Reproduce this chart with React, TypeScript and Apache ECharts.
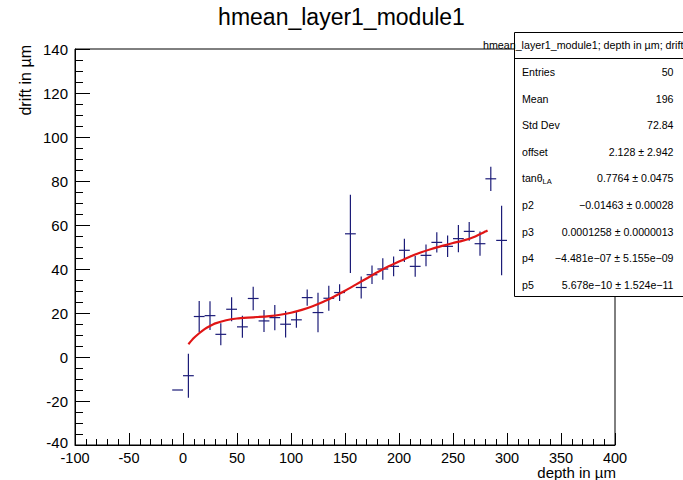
import React, { useEffect, useRef } from "react";
import * as echarts from "echarts";

// Histogram bins (centre, mean drift, error)
const binCenters = [-5, 5, 15, 25, 35, 45, 55, 65, 75, 85, 95, 105, 115, 125, 135, 145, 155, 165, 175, 185, 195, 205, 215, 225, 235, 245, 255, 265, 275, 285, 295];
const binValues = [-15, -8.5, 18.4, 18.8, 10.3, 21.7, 13.7, 26.6, 16.4, 17.9, 14.9, 16.9, 27, 20.2, 26.7, 29.3, 56, 31.6, 37.4, 40, 41.2, 48.5, 41.2, 46.2, 52.1, 50.3, 53.8, 57.1, 51.5, 81, 53];
const binErrors = [0, 10, 7, 6.5, 5, 5.5, 5, 5.3, 5, 5.7, 6, 3.6, 3.7, 9, 5.7, 3.8, 17.8, 5, 4.2, 4.9, 4.5, 5.3, 4.7, 4.9, 4.6, 4.9, 6.2, 4.3, 5.5, 5.5, 15.8];
const binHalfWidth = 5;

// Fit curve
const fitX = [5, 10, 15, 20, 25, 30, 40, 50, 60, 70, 80, 90, 100, 110, 120, 130, 140, 150, 160, 170, 180, 190, 200, 210, 220, 230, 240, 250, 260, 270, 280, 282];
const fitY = [5.8, 8.6, 10.8, 12.7, 14.1, 15.3, 16.7, 17.5, 17.9, 18.2, 18.6, 19.2, 20.1, 21.4, 23.1, 25.1, 27.5, 30.1, 32.9, 35.7, 38.5, 41.1, 43.4, 45.6, 47.5, 49.1, 50.5, 51.8, 53.0, 54.7, 57.0, 57.5];

const chartTitle = "hmean_layer1_module1";
const xTitle = "depth in µm";
const yTitle = "drift in µm";
const statsHeader = "hmean_layer1_module1; depth in µm; drift";
const statsLabels = ["Entries", "Mean", "Std Dev", "offset", "tanθ{sub|LA}", "p2", "p3", "p4", "p5"];
const statsValues = ["50", "196", "72.84", "2.128 ± 2.942", "0.7764 ± 0.0475", "−0.01463 ± 0.00028", "0.0001258 ± 0.0000013", "−4.481e−07 ± 5.155e−09", "5.678e−10 ± 1.524e−11"];

const FONT = "'Liberation Sans', Arial, Helvetica, sans-serif";
const MARK = "#1c1c78";

export default function App() {
  const ref = useRef<HTMLDivElement>(null);
  useEffect(() => {
    if (!ref.current) return;
    const chart = echarts.init(ref.current, undefined, { renderer: "svg" });
    const barData = binCenters.map((c, i) => [c, binValues[i], binErrors[i]]);
    const fitData = fitX.map((x, i) => [x, fitY[i]]);

    const rowTop = 58;
    const rowH = 26.6;
    const statsEls: any[] = [];
    statsLabels.forEach((lab, i) => {
      const cy = rowTop + rowH * i + 14;
      statsEls.push({
        type: "text",
        z: 101,
        style: {
          x: 522,
          y: cy,
          text: lab,
          fontFamily: FONT,
          fontSize: 10.6,
          fill: "#000",
          verticalAlign: "middle",
          align: "left",
          rich: {
            sub: { fontSize: 7.5, fontFamily: FONT, fill: "#000", padding: [6, 0, 0, 0] },
          },
        },
      });
      statsEls.push({
        type: "text",
        z: 101,
        style: {
          x: 673.5,
          y: cy,
          text: statsValues[i],
          fontFamily: FONT,
          fontSize: 10.6,
          fill: "#000",
          verticalAlign: "middle",
          align: "right",
        },
      });
    });

    chart.setOption({
      animation: false,
      backgroundColor: "#fff",
      grid: {
        left: 75,
        right: 68,
        top: 49,
        bottom: 35,
        show: true,
        borderColor: "#000",
        borderWidth: 1,
        backgroundColor: "transparent",
      },
      xAxis: {
        type: "value",
        min: -100,
        max: 400,
        interval: 50,
        axisLine: { show: true, onZero: false, lineStyle: { color: "#000", width: 1 } },
        axisTick: { show: true, inside: true, length: 12, lineStyle: { color: "#000" } },
        minorTick: { show: true, splitNumber: 5, length: 6, lineStyle: { color: "#000" } },
        splitLine: { show: false },
        axisLabel: { color: "#000", fontFamily: FONT, fontSize: 14.5, margin: 5 },
      },
      yAxis: {
        type: "value",
        min: -40,
        max: 140,
        interval: 20,
        axisLine: { show: true, onZero: false, lineStyle: { color: "#000", width: 1 } },
        axisTick: { show: true, inside: true, length: 15, lineStyle: { color: "#000" } },
        minorTick: { show: true, splitNumber: 4, length: 8, lineStyle: { color: "#000" } },
        splitLine: { show: false },
        axisLabel: {
          color: "#000",
          fontFamily: FONT,
          fontSize: 15,
          margin: 7,
          formatter: (v: number) => (v === -40 ? "{lo|" + v + "}" : String(v)),
          rich: {
            lo: { color: "#000", fontFamily: FONT, fontSize: 15, padding: [0, 0, 6, 0] },
          },
        },
      },
      series: [
        {
          type: "custom",
          data: barData,
          z: 3,
          renderItem: (params: any, api: any) => {
            const x = api.value(0);
            const y = api.value(1);
            const e = api.value(2);
            const l = api.coord([x - binHalfWidth, y]);
            const r = api.coord([x + binHalfWidth, y]);
            const children: any[] = [
              {
                type: "line",
                shape: { x1: l[0], y1: l[1], x2: r[0], y2: r[1] },
                style: { stroke: MARK, lineWidth: 1.2 },
              },
            ];
            if (e > 0) {
              const t = api.coord([x, y + e]);
              const b = api.coord([x, y - e]);
              children.push({
                type: "line",
                shape: { x1: t[0], y1: t[1], x2: b[0], y2: b[1] },
                style: { stroke: MARK, lineWidth: 1.2 },
              });
            }
            return { type: "group", children };
          },
        },
        {
          type: "line",
          data: fitData,
          smooth: 0.2,
          showSymbol: false,
          z: 4,
          lineStyle: { color: "#e01515", width: 2.2 },
        },
      ],
      graphic: [
        {
          type: "text",
          z: 100,
          style: {
            x: 341.5,
            y: 17,
            text: chartTitle,
            fontFamily: FONT,
            fontSize: 23,
            fill: "#000",
            align: "center",
            verticalAlign: "middle",
          },
        },
        {
          type: "text",
          z: 100,
          style: {
            x: 616,
            y: 472.5,
            text: xTitle,
            fontFamily: FONT,
            fontSize: 15,
            fill: "#000",
            align: "right",
            verticalAlign: "middle",
          },
        },
        {
          type: "text",
          z: 100,
          rotation: Math.PI / 2,
          x: 25,
          y: 45,
          style: {
            x: 0,
            y: 0,
            text: yTitle,
            fontFamily: FONT,
            fontSize: 16,
            fill: "#000",
            align: "right",
            verticalAlign: "middle",
          },
        },
        {
          type: "rect",
          z: 100,
          shape: { x: 514.5, y: 32.5, width: 175, height: 264 },
          style: { fill: "#fff", stroke: "#000", lineWidth: 1 },
        },
        {
          type: "line",
          z: 100,
          shape: { x1: 514.5, y1: 58.5, x2: 683, y2: 58.5 },
          style: { stroke: "#000", lineWidth: 1 },
        },
        {
          type: "text",
          z: 101,
          style: {
            x: 483,
            y: 45,
            text: statsHeader,
            fontFamily: FONT,
            fontSize: 10.7,
            fill: "#000",
            align: "left",
            verticalAlign: "middle",
          },
        },
        ...statsEls,
      ],
    });
    return () => chart.dispose();
  }, []);
  return (
    <div
      ref={ref}
      style={{ position: "fixed", left: 0, top: 0, width: 683, height: 480, background: "#fff" }}
    />
  );
}
